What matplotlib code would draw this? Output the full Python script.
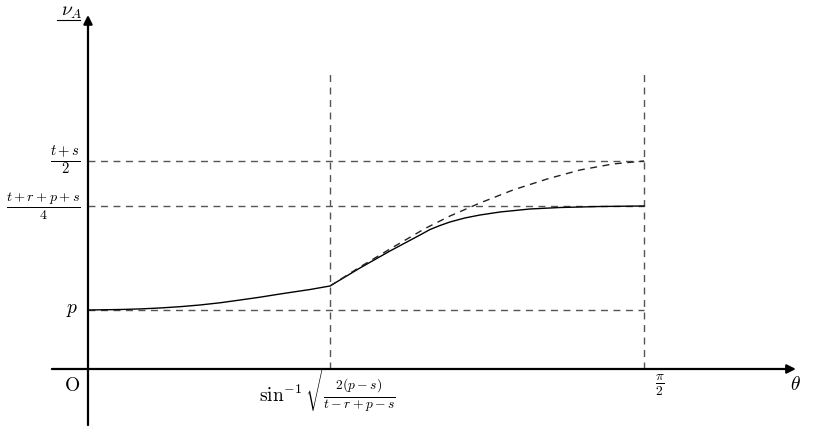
import matplotlib
matplotlib.use("Agg")
import matplotlib.pyplot as plt

plt.rcParams['mathtext.fontset'] = 'cm'
plt.rcParams['font.family'] = ['DejaVu Serif']

# --- data (theta in radians, nu in units where p = 1) ---
theta0 = 0.6837          # sin^-1 sqrt(2(p-s)/(t-r+p-s))
theta_end = 1.5708       # pi/2
p_level = 1.0
avg_level = 2.763        # (t+r+p+s)/4
half_level = 3.525       # (t+s)/2

solid_theta = [0.0, 0.0904, 0.1469, 0.2034, 0.2599, 0.3164, 0.3729, 0.4294,
               0.4859, 0.5424, 0.5990, 0.6272, 0.6837,
               0.7684, 0.8532, 0.9380, 0.9662, 0.9945, 1.0227, 1.0651, 1.1075,
               1.1640, 1.2487, 1.3335, 1.4465, 1.5708]
solid_nu = [1.000, 1.008, 1.018, 1.034, 1.056, 1.085, 1.122, 1.169,
            1.217, 1.271, 1.322, 1.347, 1.407,
            1.712, 2.000, 2.271, 2.364, 2.432, 2.492, 2.560, 2.610,
            2.661, 2.712, 2.737, 2.754, 2.763]

dashed_theta = [0.6837, 0.7684, 0.8532, 0.9521, 1.0227, 1.1075, 1.2007,
                1.2968, 1.3900, 1.4832, 1.5708]
dashed_nu = [1.407, 1.729, 2.034, 2.381, 2.593, 2.814, 3.034,
             3.220, 3.373, 3.475, 3.525]

fig = plt.figure(figsize=(8.15, 4.29), dpi=100)
ax = fig.add_axes([0, 0, 1, 1])
ax.set_xlim(-0.2486, 2.0539)
ax.set_ylim(-1.017, 6.254)
ax.axis('off')

grey = '#555555'
dash = (0, (5, 4))
# reference dashed lines
for lvl in (p_level, avg_level, half_level):
    ax.plot([0, theta_end], [lvl, lvl], color=grey, lw=1.0, linestyle=dash)
for th in (theta0, theta_end):
    ax.plot([th, th], [0, 5.0], color=grey, lw=1.0, linestyle=dash)

# curves
ax.plot(solid_theta, solid_nu, color='black', lw=1.0)
ax.plot(dashed_theta, dashed_nu, color='#222222', lw=1.0, linestyle=dash)

# axes with arrows
ax.annotate('', xy=(2.0, 0), xytext=(-0.102, 0),
            arrowprops=dict(arrowstyle='-|>', color='black', lw=1.6,
                            mutation_scale=13, shrinkA=0, shrinkB=0))
ax.annotate('', xy=(0, 6.0), xytext=(0, -0.95),
            arrowprops=dict(arrowstyle='-|>', color='black', lw=1.6,
                            mutation_scale=13, shrinkA=0, shrinkB=0))

fs = 14
ax.text(-0.045, 6.05, r'$\nu_A$', fontsize=fs, ha='center', va='center')
ax.plot([-0.088, -0.024], [5.91, 5.91], color='black', lw=0.8)
ax.text(-0.065, half_level, r'$\frac{t+s}{2}$', fontsize=15, ha='center', va='center')
ax.text(-0.125, avg_level, r'$\frac{t+r+p+s}{4}$', fontsize=14.5, ha='center', va='center')
ax.text(-0.045, p_level, r'$p$', fontsize=fs, ha='center', va='center')
ax.text(-0.045, -0.28, r'$\mathrm{O}$', fontsize=fs, ha='center', va='center')
ax.text(theta0, -0.37, r'$\sin^{-1}\sqrt{\frac{2(p-s)}{t-r+p-s}}$', fontsize=fs,
        ha='center', va='center')
ax.text(theta_end + 0.045, -0.27, r'$\frac{\pi}{2}$', fontsize=fs, ha='center', va='center')
ax.text(2.0, -0.27, r'$\theta$', fontsize=fs, ha='center', va='center')

fig.savefig('out.png', dpi=100)
